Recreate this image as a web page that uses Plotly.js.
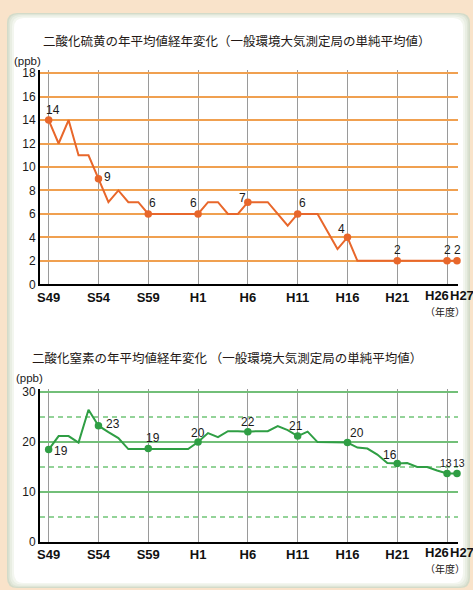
<!DOCTYPE html>
<html>
<head>
<meta charset="utf-8">
<script src="https://cdn.plot.ly/plotly-3.0.1.min.js"></script>
<style>
  html, body { margin: 0; padding: 0; background: #f9e3ca; }
  #chart { width: 473px; height: 590px; }
</style>
</head>
<body>
<div id="chart"></div>
<script>
// ---- data ----
const fiscalYears = [1974, 1975, 1976, 1977, 1978, 1979, 1980, 1981, 1982, 1983,
                     1984, 1985, 1986, 1987, 1988, 1989, 1990, 1991, 1992, 1993,
                     1994, 1995, 1996, 1997, 1998, 1999, 2000, 2001, 2002, 2003,
                     2004, 2005, 2006, 2007, 2008, 2009, 2010, 2011, 2012, 2013,
                     2014, 2015];
const so2Values = [14, 12, 14, 11, 11, 9, 7, 8, 7, 7,
                   6, 6, 6, 6, 6, 6, 7, 7, 6, 6,
                   7, 7, 7, 6, 5, 6, 6, 6, 4.5, 3,
                   4, 2, 2, 2, 2, 2, 2, 2, 2, 2,
                   2, 2];
const no2Values = [18.5, 21.2, 21.2, 19.9, 26.5, 23.3, 22.0, 20.8, 18.6, 18.6,
                   18.7, 18.6, 18.6, 18.6, 18.6, 20.0, 21.8, 21.0, 22.2, 22.2,
                   22.1, 22.2, 22.2, 23.2, 22.4, 21.2, 22.1, 20.0, 20.0, 20.0,
                   19.9, 18.9, 18.7, 17.5, 15.8, 15.7, 15.8, 15.0, 15.0, 14.3,
                   13.7, 13.7];
const tickYears = [1974, 1979, 1984, 1989, 1994, 1999, 2004, 2009, 2014, 2015];
const tickLabels = ['S49', 'S54', 'S59', 'H1', 'H6', 'H11', 'H16', 'H21', 'H26', 'H27'];
const so2Labels = ['14', '9', '6', '6', '7', '6', '4', '2', '2', '2'];
const no2Labels = ['19', '23', '19', '20', '22', '21', '20', '16', '13', '13'];
const so2Title = '二酸化硫黄の年平均値経年変化（一般環境大気測定局の単純平均値）';
const no2Title = '二酸化窒素の年平均値経年変化 （一般環境大気測定局の単純平均値）';
const unitLabel = '(ppb)';
const yearUnitLabel = '（年度）';

// ---- label offsets (pixels: dx right, dy down) and sizes ----
const so2LabelOffsets = [[4, -10], [9.5, -1.5], [4.5, -10.7], [-4.7, -10.7], [-5.7, -4.5],
                         [4.7, -10.7], [-5.7, -8.5], [0.5, -10.5], [0, -10.5], [0, -10.5]];
const no2LabelOffsets = [[12, 1.5], [14.7, -1.5], [4.3, -10.7], [0, -9.5], [0, -9.5],
                         [-1.5, -10], [10, -10], [-7.3, -9], [-1.5, -10], [1.5, -10]];
const no2LabelSizes = [12, 12, 12, 12, 12, 12, 12, 12, 10.5, 10.5];
// the last two tick labels are crowded, so they are drawn as shifted annotations
const crowdedTickCount = 2;
const crowdedTickShift = [[-10, 'center'], [4.6, 'center']];

const W = 473, H = 590;
const px = x => x / W;
const py = y => 1 - y / H;

function pick(values) {
  return tickYears.map(y => values[fiscalYears.indexOf(y)]);
}

const orangeLine = '#e8672b';
const greenLine = '#2f9e44';

const traces = [
  { x: fiscalYears, y: so2Values, xaxis: 'x', yaxis: 'y', mode: 'lines',
    line: { color: orangeLine, width: 2 }, hoverinfo: 'skip' },
  { x: tickYears, y: pick(so2Values), xaxis: 'x', yaxis: 'y', mode: 'markers',
    marker: { color: orangeLine, size: 7.5 }, cliponaxis: false, hoverinfo: 'skip' },
  { x: fiscalYears, y: no2Values, xaxis: 'x2', yaxis: 'y2', mode: 'lines',
    line: { color: greenLine, width: 2 }, hoverinfo: 'skip' },
  { x: tickYears, y: pick(no2Values), xaxis: 'x2', yaxis: 'y2', mode: 'markers',
    marker: { color: greenLine, size: 7.5 }, cliponaxis: false, hoverinfo: 'skip' }
];

const numFam = 'Liberation Sans, Arial, sans-serif';
const numFont = { family: numFam, size: 12, color: '#1a1a1a' };
const tickFont = { family: numFam, size: 13, color: '#111', weight: 'bold' };
const cjkFont = { family: 'Noto Sans CJK JP, sans-serif', size: 12.5, color: '#231815' };

const annotations = [];
pick(so2Values).forEach((v, i) => {
  annotations.push({ xref: 'x', yref: 'y', x: tickYears[i], y: v, text: so2Labels[i],
    showarrow: false, xanchor: 'center', yanchor: 'middle', borderpad: 0,
    xshift: so2LabelOffsets[i][0], yshift: -so2LabelOffsets[i][1], font: numFont });
});
pick(no2Values).forEach((v, i) => {
  annotations.push({ xref: 'x2', yref: 'y2', x: tickYears[i], y: v, text: no2Labels[i],
    showarrow: false, xanchor: 'center', yanchor: 'middle', borderpad: 0,
    xshift: no2LabelOffsets[i][0], yshift: -no2LabelOffsets[i][1],
    font: { family: numFam, size: no2LabelSizes[i], color: '#1a1a1a' } });
});
const axisTickText = tickLabels.map((t, i) => i >= tickLabels.length - crowdedTickCount ? '' : t);
[['x', 295.7], ['x2', 552.7]].forEach(([xr, yy]) => {
  for (let k = 0; k < crowdedTickCount; k++) {
    const i = tickLabels.length - crowdedTickCount + k;
    annotations.push({ xref: xr, yref: 'paper', x: tickYears[i], y: py(yy), text: tickLabels[i],
      showarrow: false, xanchor: crowdedTickShift[k][1], yanchor: 'middle', borderpad: 0,
      xshift: crowdedTickShift[k][0], font: tickFont });
  }
});
annotations.push(
  { xref: 'paper', yref: 'paper', x: px(41), y: py(40), text: so2Title, showarrow: false,
    xanchor: 'left', yanchor: 'middle', font: cjkFont },
  { xref: 'paper', yref: 'paper', x: px(30), y: py(357), text: no2Title, showarrow: false,
    xanchor: 'left', yanchor: 'middle', font: cjkFont },
  { xref: 'paper', yref: 'paper', x: px(12), y: py(61), text: unitLabel, showarrow: false,
    xanchor: 'left', yanchor: 'middle', font: { family: numFam, size: 11.5, color: '#1a1a1a' } },
  { xref: 'paper', yref: 'paper', x: px(13.5), y: py(378), text: unitLabel, showarrow: false,
    xanchor: 'left', yanchor: 'middle', font: { family: numFam, size: 11.5, color: '#1a1a1a' } },
  { xref: 'paper', yref: 'paper', x: px(467), y: py(311.5), text: yearUnitLabel, showarrow: false,
    xanchor: 'right', yanchor: 'middle', font: { family: cjkFont.family, size: 10, color: '#231815' } },
  { xref: 'paper', yref: 'paper', x: px(467), y: py(568), text: yearUnitLabel, showarrow: false,
    xanchor: 'right', yanchor: 'middle', font: { family: cjkFont.family, size: 10, color: '#231815' } }
);

function roundRect(x0, y0, x1, y1, r, fill) {
  const p = 'M' + px(x0 + r) + ',' + py(y0) +
    ' L' + px(x1 - r) + ',' + py(y0) +
    ' Q' + px(x1) + ',' + py(y0) + ' ' + px(x1) + ',' + py(y0 + r) +
    ' L' + px(x1) + ',' + py(y1 - r) +
    ' Q' + px(x1) + ',' + py(y1) + ' ' + px(x1 - r) + ',' + py(y1) +
    ' L' + px(x0 + r) + ',' + py(y1) +
    ' Q' + px(x0) + ',' + py(y1) + ' ' + px(x0) + ',' + py(y1 - r) +
    ' L' + px(x0) + ',' + py(y0 + r) +
    ' Q' + px(x0) + ',' + py(y0) + ' ' + px(x0 + r) + ',' + py(y0) + ' Z';
  return { type: 'path', xref: 'paper', yref: 'paper', path: p, fillcolor: fill,
           line: { width: 0 }, layer: 'below' };
}

const shapes = [
  roundRect(7, 13, 470, 588, 10, '#d3dbc9'),
  roundRect(8.5, 14, 468.5, 587, 10, '#dfe5d7'),
  roundRect(10, 15, 467, 586, 10, '#e9eee3'),
  roundRect(12, 16.5, 465, 584.5, 10, '#f3f6ef'),
  roundRect(14, 18, 463, 583, 10, '#ffffff')
];

const xRange = [1973.13, 2015.1];
const xCommon = {
  range: xRange, tickmode: 'array', tickvals: tickYears, ticktext: axisTickText,
  tickangle: 0, automargin: false,
  showgrid: true, gridcolor: '#9a9a9a', gridwidth: 1,
  showline: true, linecolor: '#000', linewidth: 2, zeroline: false, ticks: '',
  tickfont: tickFont, fixedrange: true
};
const xDomain = [px(40), px(458)];

const layout = {
  width: W, height: H,
  margin: { l: 0, r: 0, t: 0, b: 0, pad: 0 },
  paper_bgcolor: '#f9e3ca', plot_bgcolor: 'rgba(0,0,0,0)',
  showlegend: false,
  xaxis: Object.assign({}, xCommon, { domain: xDomain, anchor: 'y' }),
  yaxis: {
    domain: [py(284.3), py(69.6)], anchor: 'x', range: [0, 18.3],
    tickmode: 'linear', tick0: 0, dtick: 2,
    showgrid: true, gridcolor: '#f0a050', gridwidth: 2,
    showline: true, linecolor: '#000', linewidth: 2, zeroline: false, ticks: '',
    tickfont: numFont, fixedrange: true
  },
  xaxis2: Object.assign({}, xCommon, { domain: xDomain, anchor: 'y2' }),
  yaxis2: {
    domain: [py(541.7), py(389.3)], anchor: 'x2', range: [0, 30.6],
    tickmode: 'linear', tick0: 0, dtick: 10,
    showgrid: true, gridcolor: '#72bf78', gridwidth: 2,
    minor: { tick0: 0, dtick: 5, showgrid: true, gridcolor: '#93d398', gridwidth: 1.5,
             griddash: '5px,4px', ticks: '' },
    showline: true, linecolor: '#000', linewidth: 2, zeroline: false, ticks: '',
    tickfont: numFont, fixedrange: true
  },
  annotations: annotations,
  shapes: shapes
};

Plotly.newPlot('chart', traces, layout, { displayModeBar: false, staticPlot: true });
</script>
</body>
</html>
